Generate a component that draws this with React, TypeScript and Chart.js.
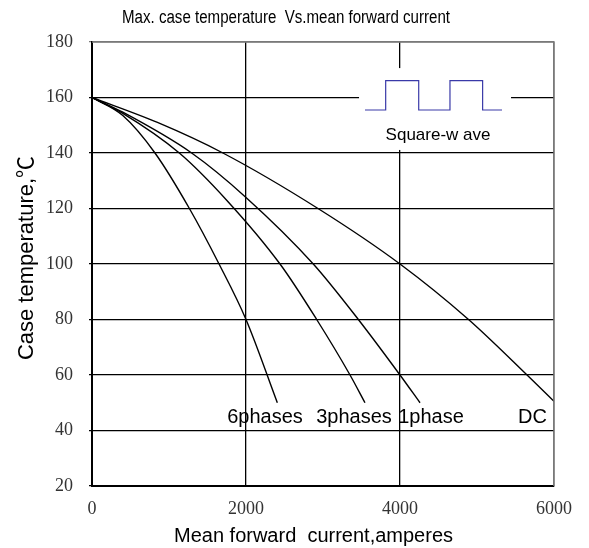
import React, { useEffect, useRef } from "react";
import { Chart, registerables } from "chart.js";

Chart.register(...registerables);

const TITLE = "Max. case temperature  Vs.mean forward current";
const X_TITLE = "Mean forward  current,amperes";
const Y_TITLE = "Case temperature,℃";

const X_MIN = 0;
const X_MAX = 6000;
const X_STEP = 2000;
const Y_MIN = 20;
const Y_MAX = 180;
const Y_STEP = 20;

// Curves: mean forward current (A) vs case temperature (°C)
const DC_X = [0, 850, 1700, 2935, 4000, 4890, 5650, 6000];
const DC_Y = [160, 151, 140, 120, 100, 80, 60, 50.5];

const P1_X = [0, 400, 1294, 2000, 2874, 3459, 4000, 4260];
const P1_Y = [160, 154.7, 140, 124, 100, 80, 60, 50];

const P3_X = [0, 400, 1134, 1749, 2442, 2918, 3351, 3545];
const P3_Y = [160, 154.3, 140, 123, 100, 80, 60, 50];

const P6_X = [0, 400, 818, 1265, 1650, 2000, 2407];
const P6_Y = [160, 153.5, 140, 120, 100, 80, 50];

// Curve labels (anchored in data units)
const CURVE_LABELS = ["6phases", "3phases", "1phase", "DC"];
const CURVE_LABEL_X = [2247, 3403, 4403, 5721];
const CURVE_LABEL_Y = [42.7, 42.7, 42.7, 42.7];

// Square-wave inset (in data units)
const INSET_X = [3468, 5442];
const INSET_Y = [141.1, 170.6];
const SQUARE_X = [3545, 3814, 3814, 4243, 4243, 4649, 4649, 5073, 5073, 5325];
const SQUARE_Y = [155.5, 155.5, 166.1, 166.1, 155.5, 155.5, 166.1, 166.1, 155.5, 155.5];
const SQUARE_TEXT = "Square-w ave";
const SQUARE_TEXT_X = 4494;
const SQUARE_TEXT_Y = 144.6;

const toPts = (xs: number[], ys: number[]) => xs.map((x, i) => ({ x, y: ys[i] }));

const curve = (label: string, xs: number[], ys: number[]) => ({
  label,
  data: toPts(xs, ys),
  borderColor: "#000",
  borderWidth: 1.4,
  pointRadius: 0,
  fill: false,
  cubicInterpolationMode: "monotone" as const,
});

export default function App() {
  const ref = useRef<HTMLCanvasElement | null>(null);

  useEffect(() => {
    if (!ref.current) return;

    const annotations = {
      id: "annotations",
      beforeDatasetsDraw(chart: any) {
        const { ctx, scales } = chart;
        const x = scales.x;
        const y = scales.y;
        const l = x.getPixelForValue(INSET_X[0]);
        const r = x.getPixelForValue(INSET_X[1]);
        const t = y.getPixelForValue(INSET_Y[1]);
        const b = y.getPixelForValue(INSET_Y[0]);
        ctx.save();
        ctx.fillStyle = "#fff";
        ctx.fillRect(l, t, r - l, b - t);
        ctx.restore();
      },
      afterDraw(chart: any) {
        const { ctx, scales, chartArea } = chart;
        const x = scales.x;
        const y = scales.y;
        ctx.save();
        ctx.fillStyle = "#000";
        // curve labels
        ctx.font = "20px 'Liberation Sans', Arial, sans-serif";
        ctx.textAlign = "center";
        ctx.textBaseline = "alphabetic";
        CURVE_LABELS.forEach((s, i) => {
          ctx.fillText(s, x.getPixelForValue(CURVE_LABEL_X[i]), y.getPixelForValue(CURVE_LABEL_Y[i]));
        });
        // square wave caption
        ctx.font = "17px 'Liberation Sans', Arial, sans-serif";
        ctx.fillText(SQUARE_TEXT, x.getPixelForValue(SQUARE_TEXT_X), y.getPixelForValue(SQUARE_TEXT_Y));

        // chart title (condensed)
        ctx.font = "18px 'Liberation Sans Narrow', 'Liberation Sans', Arial, sans-serif";
        const w = ctx.measureText(TITLE).width;
        const sx = Math.min(1, 328 / w);
        ctx.save();
        ctx.translate(286, 23);
        ctx.scale(sx, 1);
        ctx.fillText(TITLE, 0, 0);
        ctx.restore();

        // x axis title
        ctx.font = "20px 'Liberation Sans', Arial, sans-serif";
        ctx.fillText(X_TITLE, 313.5, 541.5);

        // y axis title
        ctx.save();
        ctx.translate(33, (chartArea.top + chartArea.bottom) / 2 - 6);
        ctx.rotate(-Math.PI / 2);
        ctx.font = "22px 'Liberation Sans', Arial, 'Noto Sans CJK SC', sans-serif";
        ctx.fillText(Y_TITLE, 0, 0);
        ctx.restore();

        // top & right frame in grey
        ctx.strokeStyle = "#7a7a7a";
        ctx.lineWidth = 1.5;
        ctx.beginPath();
        ctx.moveTo(chartArea.left, chartArea.top);
        ctx.lineTo(chartArea.right, chartArea.top);
        ctx.lineTo(chartArea.right, chartArea.bottom);
        ctx.stroke();
        ctx.restore();
      },
    };

    const serif = { family: "'Liberation Serif', 'Times New Roman', serif", size: 18 };

    const chart = new Chart(ref.current, {
      type: "line",
      data: {
        datasets: [
          curve("DC", DC_X, DC_Y),
          curve("1phase", P1_X, P1_Y),
          curve("3phases", P3_X, P3_Y),
          curve("6phases", P6_X, P6_Y),
          {
            label: "Square-wave",
            data: toPts(SQUARE_X, SQUARE_Y),
            borderColor: "#3a3aa8",
            borderWidth: 1.2,
            pointRadius: 0,
            fill: false,
            tension: 0,
          },
        ],
      },
      options: {
        animation: false,
        responsive: false,
        devicePixelRatio: 1,
        layout: { padding: { left: 0, right: 35, top: 42, bottom: 0 } },
        plugins: {
          legend: { display: false },
          title: { display: false },
          tooltip: { enabled: false },
        },
        scales: {
          x: {
            type: "linear",
            min: X_MIN,
            max: X_MAX,
            afterFit: (s: any) => {
              s.height = 62;
            },
            ticks: {
              stepSize: X_STEP,
              padding: 12,
              color: "#333",
              font: serif,
              callback: (v: any) => String(v),
            },
            grid: {
              color: (c: any) => (c.tick && c.tick.value === X_MAX ? "#7a7a7a" : "#000"),
              lineWidth: 1.3,
              drawTicks: false,
            },
            border: { display: true, color: "#000", width: 2 },
          },
          y: {
            type: "linear",
            min: Y_MIN,
            max: Y_MAX,
            afterFit: (s: any) => {
              s.width = 92;
            },
            ticks: {
              stepSize: Y_STEP,
              padding: 16,
              color: "#333",
              font: serif,
              callback: (v: any) => String(v),
            },
            grid: {
              color: (c: any) => (c.tick && c.tick.value === Y_MAX ? "#7a7a7a" : "#000"),
              lineWidth: 1.3,
              drawTicks: true,
              tickLength: 3,
            },
            border: { display: true, color: "#000", width: 2 },
          },
        },
      },
      plugins: [annotations],
    });

    return () => chart.destroy();
  }, []);

  return (
    <div style={{ position: "absolute", left: 0, top: 0, width: 589, height: 548, background: "#fff" }}>
      <canvas ref={ref} width={589} height={548} style={{ width: 589, height: 548, display: "block" }} />
    </div>
  );
}
